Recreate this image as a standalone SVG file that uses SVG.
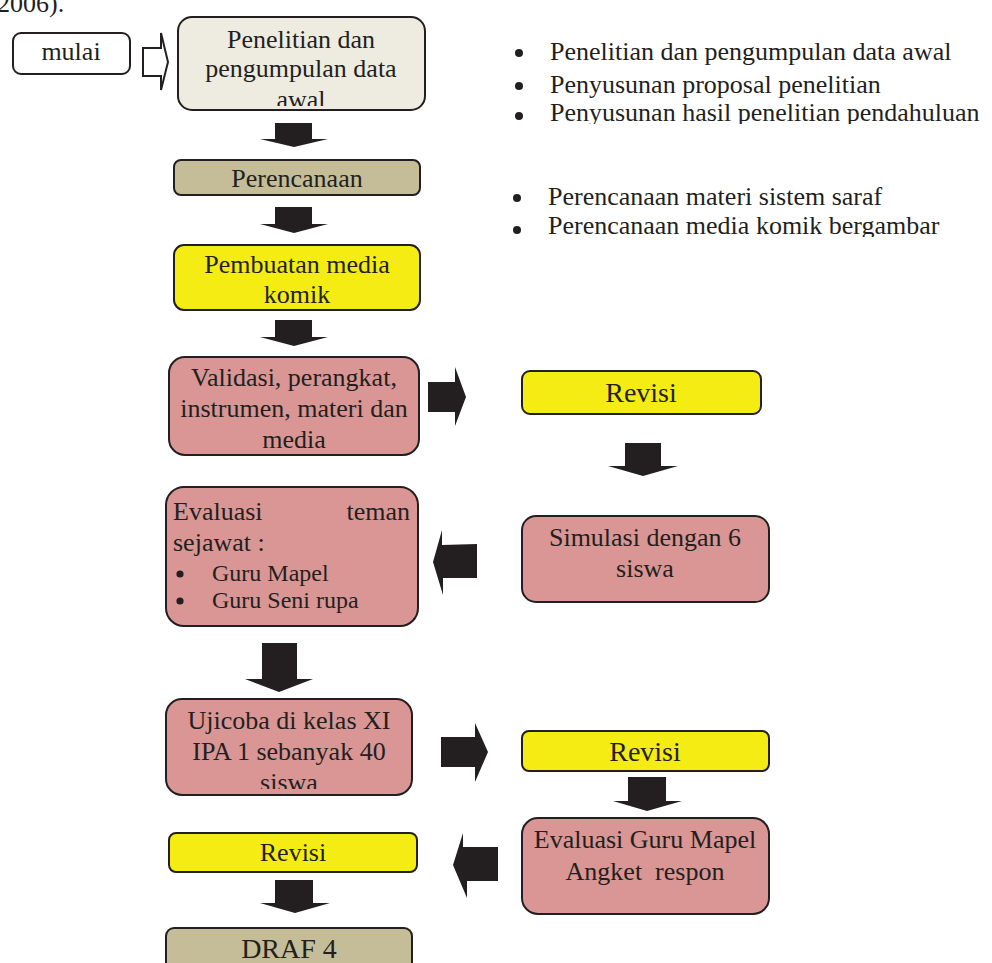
<svg xmlns="http://www.w3.org/2000/svg" width="992" height="963" viewBox="0 0 992 963">
<style>
text{font-family:"Liberation Serif","Times New Roman",serif;fill:#231f20;font-size:26px}
.c{text-anchor:middle}
.box{stroke:#231f20;stroke-width:2}
.beige{fill:#eeece1}.khaki{fill:#c4bd97}.yel{fill:#f4ec12}.pink{fill:#d99694}.white{fill:#ffffff}
.arr{fill:#231f20;stroke:none}
.rv{font-size:28px}
.sm{font-size:24px}
.dot{fill:#231f20}
</style>
<defs>
<clipPath id="c1"><rect x="0" y="0" width="992" height="106"/></clipPath>
<clipPath id="c2"><rect x="0" y="0" width="992" height="789"/></clipPath>
<clipPath id="c3"><rect x="0" y="0" width="992" height="124"/></clipPath>
<clipPath id="c4"><rect x="0" y="0" width="992" height="237"/></clipPath>
</defs>
<rect width="992" height="963" fill="#ffffff"/>
<text x="-3" y="12" font-size="28">2006).</text>

<g id="connectors">
<path d="M143,48 H161 V33 L168,62 L161,90 V76 H143 Z" fill="#ffffff" stroke="#231f20" stroke-width="2"/>
<path class="arr" d="M275,123 H312 V139 H328 L294,147 L260,139 H275 Z"/>
<path class="arr" d="M275,207 H312 V224 H328 L294,233 L260,224 H275 Z"/>
<path class="arr" d="M275,320 H312 V337 H328 L294,346 L260,337 H275 Z"/>
<path class="arr" d="M428,382 H455 V367 L466,397 L455,426 V412 H428 Z"/>
<path class="arr" d="M625,443 H661 V466 H678 L643,476 L608,466 H625 Z"/>
<path class="arr" d="M477,544 L477,578 L443,578 L443,595 L433,562 L442,530 L442,545 Z"/>
<path class="arr" d="M262,643 H297 V679 H313 L279,692 L245,679 H262 Z"/>
<path class="arr" d="M441,737 H475 V723 L488,752 L475,782 V767 H441 Z"/>
<path class="arr" d="M628,777 H666 V801 H682 L647,811 L613,801 H628 Z"/>
<path class="arr" d="M498,847 V881 H467 V898 L453,865 L463,833 V847 Z"/>
<path class="arr" d="M275,880 H313 V903 H330 L295,913 L260,903 H275 Z"/>
</g>

<g id="mulai">
<rect class="box white" x="13" y="33" width="117" height="41" rx="8"/>
<text class="c" x="71" y="60">mulai</text>
</g>

<g id="penelitian">
<rect class="box beige" x="178" y="17" width="247" height="93" rx="14"/>
<text class="c" x="301" y="48">Penelitian dan</text>
<text class="c" x="301" y="77">pengumpulan data</text>
<text class="c" x="301" y="108" clip-path="url(#c1)">awal</text>
</g>

<g id="notes1">
<circle class="dot" cx="519" cy="53" r="4"/><text x="550" y="60">Penelitian dan pengumpulan data awal</text>
<circle class="dot" cx="519" cy="86" r="4"/><text x="550" y="93">Penyusunan proposal penelitian</text>
<circle class="dot" cx="519" cy="116" r="4"/><text x="550" y="121" clip-path="url(#c3)">Penyusunan hasil penelitian pendahuluan</text>
</g>

<g id="notes2">
<circle class="dot" cx="517" cy="198" r="4"/><text x="548" y="205">Perencanaan materi sistem saraf</text>
<circle class="dot" cx="517" cy="230" r="4"/><text x="548" y="234" clip-path="url(#c4)">Perencanaan media komik bergambar</text>
</g>

<g id="perencanaan">
<rect class="box khaki" x="174" y="160" width="246" height="35" rx="7"/>
<text class="c" x="297" y="187">Perencanaan</text>
</g>

<g id="pembuatan">
<rect class="box yel" x="174" y="245" width="246" height="65" rx="10"/>
<text class="c" x="297" y="273">Pembuatan media</text>
<text class="c" x="297" y="303">komik</text>
</g>

<g id="validasi">
<rect class="box pink" x="169" y="357" width="250" height="98" rx="16"/>
<text class="c" x="294" y="386">Validasi, perangkat,</text>
<text class="c" x="294" y="417">instrumen, materi dan</text>
<text class="c" x="294" y="448">media</text>
</g>

<g id="revisi1">
<rect class="box yel" x="522" y="371" width="239" height="43" rx="8"/>
<text class="c rv" x="641" y="402">Revisi</text>
</g>

<g id="simulasi">
<rect class="box pink" x="522" y="516" width="247" height="86" rx="14"/>
<text class="c" x="645" y="546">Simulasi dengan 6</text>
<text class="c" x="645" y="577">siswa</text>
</g>

<g id="evaluasi-teman">
<rect class="box pink" x="166" y="487" width="252" height="139" rx="18"/>
<text x="173" y="520">Evaluasi</text>
<text x="410" y="520" text-anchor="end">teman</text>
<text x="173" y="551">sejawat :</text>
<circle class="dot" cx="180" cy="574" r="3.6"/><text class="sm" x="212" y="581">Guru Mapel</text>
<circle class="dot" cx="180" cy="601" r="3.6"/><text class="sm" x="212" y="608">Guru Seni rupa</text>
</g>

<g id="ujicoba">
<rect class="box pink" x="166" y="699" width="246" height="96" rx="16"/>
<text class="c" x="289" y="729">Ujicoba di kelas XI</text>
<text class="c" x="289" y="760">IPA 1 sebanyak 40</text>
<text class="c" x="289" y="791" clip-path="url(#c2)">siswa</text>
</g>

<g id="revisi2">
<rect class="box yel" x="522" y="731" width="247" height="40" rx="7"/>
<text class="c rv" x="645" y="761">Revisi</text>
</g>

<g id="evaluasi-guru">
<rect class="box pink" x="522" y="818" width="247" height="96" rx="16"/>
<text class="c" x="645" y="848">Evaluasi Guru Mapel</text>
<text class="c" x="645" y="880" style="white-space:pre">Angket  respon</text>
</g>

<g id="revisi3">
<rect class="box yel" x="169" y="833" width="248" height="39" rx="7"/>
<text class="c" x="293" y="861">Revisi</text>
</g>

<g id="draf4">
<rect class="box khaki" x="166" y="928" width="246" height="60" rx="8"/>
<text class="c rv" x="289" y="958">DRAF 4</text>
</g>
</svg>
